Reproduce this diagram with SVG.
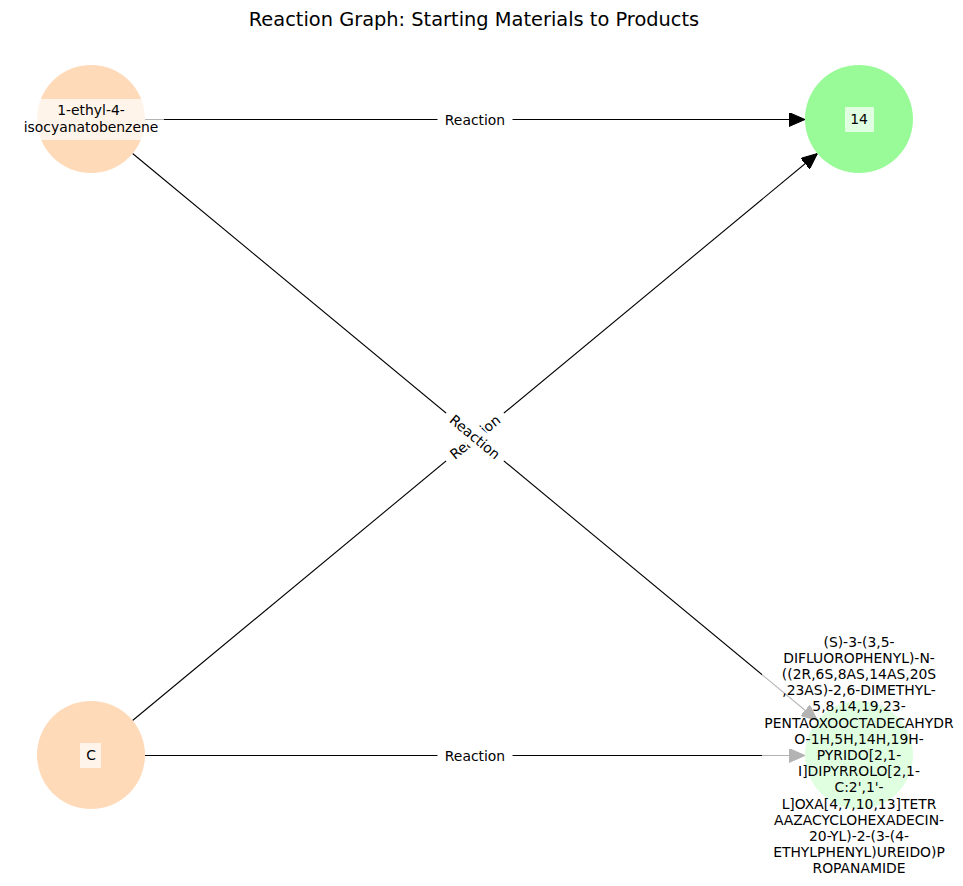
<svg xmlns="http://www.w3.org/2000/svg" width="963" height="886" viewBox="0 0 963 886">
<defs>
<style>
text{font-family:"DejaVu Sans",sans-serif;font-size:13.9px;fill:#000;text-anchor:middle}
.title{font-size:19.4px}
.edge{stroke:#000;stroke-width:1.1;fill:none}
.head{fill:#000;stroke:#000;stroke-width:1}
.elbl{fill:#fff;stroke:#fff}
.nlbl{fill:#fff;fill-opacity:0.7}
.start{fill:#ffdab9}
.prod{fill:#98fb98}
</style>
<marker id="arr" viewBox="0 0 16 14" refX="16" refY="7" markerWidth="16" markerHeight="14" markerUnits="userSpaceOnUse" orient="auto">
<path d="M0,0 L16,7 L0,14 Z" class="head"/>
</marker>
</defs>
<rect width="963" height="886" fill="#fff"/>
<text class="title" x="474" y="25.5">Reaction Graph: Starting Materials to Products</text>
<g id="edges">
<line class="edge" x1="145" y1="119.5" x2="805" y2="119.5" marker-end="url(#arr)"/>
<line class="edge" x1="132.6" y1="153.5" x2="817.4" y2="720.5" marker-end="url(#arr)"/>
<line class="edge" x1="132.6" y1="720.5" x2="817.4" y2="153.5" marker-end="url(#arr)"/>
<line class="edge" x1="145" y1="755.5" x2="805" y2="755.5" marker-end="url(#arr)"/>
</g>
<g id="n1"><circle class="start" cx="91" cy="119" r="54"/></g>
<g id="n2"><circle class="start" cx="91" cy="755" r="54"/></g>
<g id="n3"><circle class="prod" cx="859" cy="119" r="54"/></g>
<g id="n4"><circle class="prod" cx="859" cy="755" r="54"/></g>
<g id="node-labels">
<rect class="nlbl" x="18" y="99" width="146" height="41"/>
<text x="91" y="115">1-ethyl-4-</text>
<text x="91" y="132">isocyanatobenzene</text>
<rect class="nlbl" x="80" y="743" width="21" height="25"/>
<text x="91" y="760">C</text>
<rect class="nlbl" x="845" y="107" width="29" height="25"/>
<text x="859" y="124">14</text>
<rect class="nlbl" x="762" y="632" width="194" height="248"/>
<text x="859" y="646.6">(S)-3-(3,5-</text>
<text x="859" y="662.8">DIFLUOROPHENYL)-N-</text>
<text x="859" y="679">((2R,6S,8AS,14AS,20S</text>
<text x="859" y="695.2">,23AS)-2,6-DIMETHYL-</text>
<text x="859" y="711.4">5,8,14,19,23-</text>
<text x="859" y="727.6">PENTAOXOOCTADECAHYDR</text>
<text x="859" y="743.8">O-1H,5H,14H,19H-</text>
<text x="859" y="760">PYRIDO[2,1-</text>
<text x="859" y="776.2">I]DIPYRROLO[2,1-</text>
<text x="859" y="792.4">C:2',1'-</text>
<text x="859" y="808.6">L]OXA[4,7,10,13]TETR</text>
<text x="859" y="824.8">AAZACYCLOHEXADECIN-</text>
<text x="859" y="841">20-YL)-2-(3-(4-</text>
<text x="859" y="857.2">ETHYLPHENYL)UREIDO)P</text>
<text x="859" y="873.4">ROPANAMIDE</text>
</g>
<g id="edge-labels">
<g transform="translate(475,119.5)"><rect class="elbl" x="-37" y="-10" width="74" height="20" rx="4"/><text y="5">Reaction</text></g>
<g transform="translate(475,755.5)"><rect class="elbl" x="-37" y="-10" width="74" height="20" rx="4"/><text y="5">Reaction</text></g>
<g transform="translate(475,437) rotate(-39.6)"><rect class="elbl" x="-37" y="-10" width="74" height="20" rx="4"/><text y="5">Reaction</text></g>
<g transform="translate(475,437) rotate(39.6)"><rect class="elbl" x="-37" y="-10" width="74" height="20" rx="4"/><text y="5">Reaction</text></g>
</g>
</svg>
